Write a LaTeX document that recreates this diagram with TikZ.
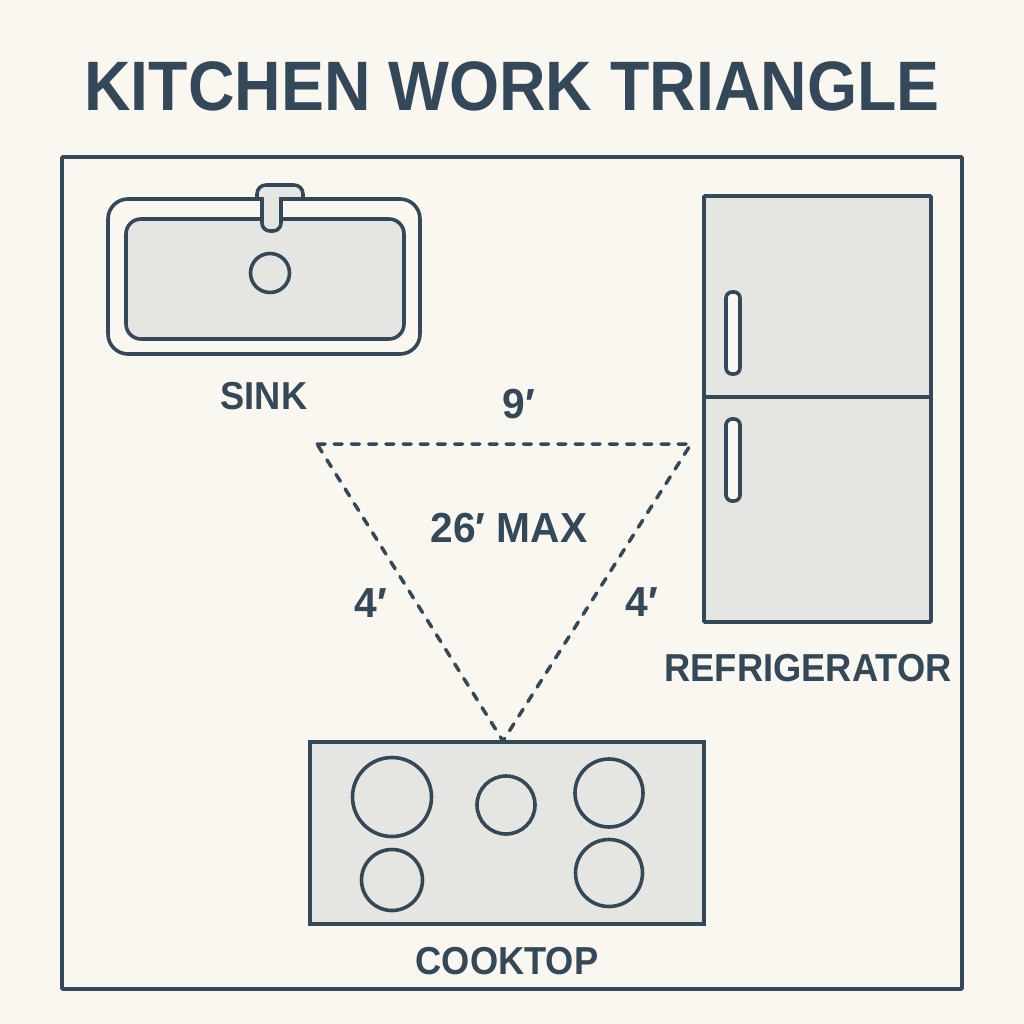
\documentclass[tikz,border=0pt]{standalone}
\usepackage{fontspec}
\setmainfont{Liberation Sans}
\newfontfamily\titlefont[FakeStretch=0.92]{Liberation Sans}
\newfontfamily\labelfont[FakeStretch=0.93]{Liberation Sans}
\newfontfamily\sizefont[FakeStretch=0.97]{Liberation Sans}
\usetikzlibrary{positioning}
\definecolor{ink}{HTML}{33495A}
\definecolor{paper}{HTML}{FAF6F0}
\definecolor{unit}{HTML}{E5E6E1}
\tikzstyle{unitbox}=[rectangle, draw=ink, fill=unit, line width=3.6pt, outer sep=0pt]
\tikzstyle{burner}=[circle, draw=ink, fill=unit, line width=3.6pt, inner sep=0pt, outer sep=0pt]
\tikzstyle{label}=[text=ink, font=\labelfont\fontsize{39}{39}\selectfont\bfseries, inner sep=0pt]
\tikzstyle{sizelabel}=[text=ink, font=\sizefont\fontsize{42}{42}\selectfont\bfseries, inner sep=0pt]
\tikzstyle{walk}=[draw=ink, line width=3.5pt, line cap=round, dash pattern=on 8pt off 9.2pt]

\begin{document}
\begin{tikzpicture}[x=1pt, y=-1pt]
    \useasboundingbox[fill=paper] (0,0) rectangle (1024,1024);
    % room
    \node[text=ink, inner sep=0pt, font=\titlefont\fontsize{70}{70}\selectfont\bfseries] (title) at (512,86) {KITCHEN WORK TRIANGLE};
    \coordinate (roomA) at (62,157);
    \coordinate (roomB) at (962,989);
    \draw[draw=ink, line width=3.6pt, rounded corners=1pt] (roomA) rectangle (roomB);

    % sink
    \draw[unitbox, fill=paper, rounded corners=20pt] (108,199) rectangle (420,354);
    \draw[unitbox, rounded corners=15pt] (126,219) rectangle (404,339);
    \draw[unitbox, rounded corners=9pt] (257,199) -- (257,185) -- (303,185) -- (303,199);
    \draw[draw=ink, line width=3.6pt] (257,199) -- (303,199);
    \draw[unitbox, rounded corners=8pt] (262,199) -- (262,231) -- (281,231) -- (281,199);
    \fill[unit] (263.8,196) rectangle (279.2,222);
    \node[burner, minimum size=39pt] (drain) at (270,273) {};
    \node[label] (sink) at (264,396) {SINK};

    % fridge
    \node[unitbox, minimum width=227pt, minimum height=426pt, anchor=north west, rounded corners=1pt] (fridge) at (704,196) {};
    \draw[draw=ink, line width=3.6pt] (704,397) -- (931,397);
    \draw[draw=ink, fill=paper, line width=3.6pt, rounded corners=6pt] (726,292) rectangle (740,374);
    \draw[draw=ink, fill=paper, line width=3.6pt, rounded corners=6pt] (726,419) rectangle (740,501);
    \node[label] (refrigerator) at (808,668) {REFRIGERATOR};

    % cooktop
    \node[unitbox, minimum width=394pt, minimum height=182pt, anchor=north west] (cooktop) at (310,742) {};
    \node[burner, minimum size=79pt] (b1) at (392,797) {};
    \node[burner, minimum size=58pt] (b2) at (506,805) {};
    \node[burner, minimum size=68pt] (b3) at (609,793) {};
    \node[burner, minimum size=61pt] (b4) at (392,880) {};
    \node[burner, minimum size=67pt] (b5) at (609,873) {};
    \node[label] (cook) at (507,961) {COOKTOP};

    % triangle
    \coordinate (cornerS) at (317,444);
    \coordinate (cornerR) at (691,444);
    \coordinate (cornerC) at (503,741);
    \draw[walk] (cornerS) -- (cornerR) -- (cornerC) -- cycle;
    \node[sizelabel] (top) at (519,404) {9′};
    \node[sizelabel] (max) at (509,528) {26′ MAX};
    \node[sizelabel] (left) at (371,603) {4′};
    \node[sizelabel] (right) at (642,602) {4′};
\end{tikzpicture}
\end{document}
